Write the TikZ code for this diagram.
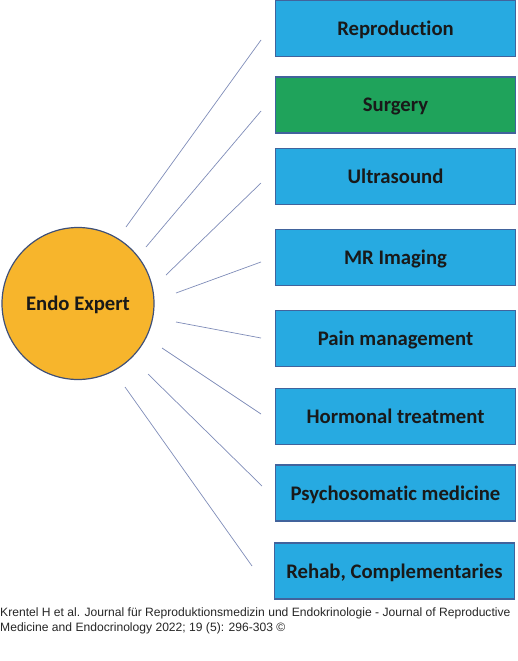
\documentclass[tikz,border=0pt]{standalone}
\usepackage{fontspec}
\setmainfont[Ligatures=NoCommon]{Carlito}
\newfontfamily\footfont{Liberation Sans}
\definecolor{boxblue}{HTML}{27AAE1}
\definecolor{boxgreen}{HTML}{1FA35B}
\definecolor{boxedge}{HTML}{41639C}
\definecolor{circfill}{HTML}{F7B52C}
\definecolor{circedge}{HTML}{3F5078}
\definecolor{linkcol}{HTML}{7F8CB8}
\begin{document}
\begin{tikzpicture}[x=1pt,y=-1pt,
  topic/.style={draw=boxedge, line width=1.2pt, fill=boxblue, minimum width=240pt, minimum height=56pt, inner sep=0pt, text depth=0pt, font=\fontsize{20.7}{24}\selectfont\bfseries, text=black!90},
  hub/.style={circle, draw=circedge, line width=1.2pt, fill=circfill, minimum size=152pt, inner sep=0pt, text depth=0pt, font=\fontsize{20.7}{24}\selectfont\bfseries, text=black!90},
  link/.style={draw=linkcol, line width=0.7pt}]
\useasboundingbox (0,0) rectangle (517,661);
\node[hub] (hub) at (78,303.5) {Endo Expert};
\node[topic] (b1) at (395.5,28.5) {Reproduction};
\node[topic, fill=boxgreen] (b2) at (395.5,105) {Surgery};
\node[topic] (b3) at (395.5,176.5) {Ultrasound};
\node[topic] (b4) at (395.5,257.5) {MR Imaging};
\node[topic] (b5) at (395.5,338.5) {Pain management};
\node[topic] (b6) at (395.5,416.5) {Hormonal treatment};
\node[topic] (b7) at (395.5,493) {Psychosomatic medicine};
\node[topic] (b8) at (394.5,571) {Rehab, Complementaries};
\coordinate (s1) at (126,227); \coordinate (e1) at (261,40);
\coordinate (s2) at (146,247); \coordinate (e2) at (261,111);
\coordinate (s3) at (166,275); \coordinate (e3) at (261,183);
\coordinate (s4) at (176,293); \coordinate (e4) at (261,262);
\coordinate (s5) at (176,322); \coordinate (e5) at (261,338);
\coordinate (s6) at (162,348); \coordinate (e6) at (261,414);
\coordinate (s7) at (148,374); \coordinate (e7) at (262,486);
\coordinate (s8) at (125,387); \coordinate (e8) at (252,566);
\foreach \i in {1,...,8} {\draw[link] (s\i) -- (e\i);}
\node[anchor=base west, inner sep=0pt, font=\footfont\fontsize{12.1}{15}\selectfont, text=black!85, align=left] (cap) at (0,631)
  {Krentel H et al. Journal für Reproduktionsmedizin und Endokrinologie - Journal of Reproductive\\Medicine and Endocrinology 2022; 19 (5): 296-303 ©};
\end{tikzpicture}
\end{document}
